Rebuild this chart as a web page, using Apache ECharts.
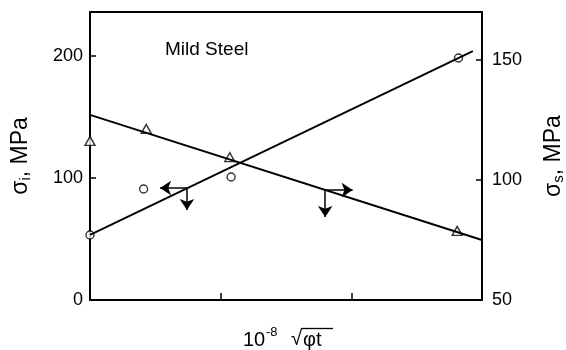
<!DOCTYPE html>
<html>
<head>
<meta charset="utf-8">
<script src="https://cdn.jsdelivr.net/npm/echarts@6/dist/echarts.min.js"></script>
<style>
html,body{margin:0;padding:0;background:#fff;}
#chart{width:566px;height:350px;}
</style>
</head>
<body>
<div id="chart"></div>
<script>
// ---- data ----
const xTicks = [0, 1, 2, 3];
const leftTicks = [0, 100, 200];      // sigma_i, MPa
const rightTicks = [50, 100, 150];    // sigma_s, MPa

// circles: sigma_i (left axis)
const circleX = [0, 0.41, 1.08, 2.82];
const circleY = [53.3, 91.0, 100.8, 198.3];
// triangles: sigma_s (right axis)
const triX = [0, 0.43, 1.07, 2.81];
const triY = [116.3, 121.3, 109.5, 78.8];

// fitted straight lines
const circleFitX = [0, 2.93];
const circleFitY = [53.3, 204.0];
const triFitX = [0, 3.0];
const triFitY = [127.1, 75.0];

// axis-pointer arrows (data coordinates)
const arrowCircle = { from: [0.742, 91.8], left: [0.536, 91.8], down: [0.742, 73.7] };
const arrowTri = { from: [1.80, 95.8], right: [2.01, 95.8], down: [1.80, 84.6] };

const FONT = 'Liberation Sans';
const zip = (a, b) => a.map((v, i) => [v, b[i]]);

const chart = echarts.init(document.getElementById('chart'), null, { renderer: 'canvas' });

const arrowLineStyle = { color: '#000', width: 1.5, type: 'solid' };
function arrowMark(a, b) {
  return [{ coord: a }, { coord: b }];
}

const option = {
  backgroundColor: '#fff',
  animation: false,
  grid: { left: 90, right: 84, top: 12, bottom: 50, show: true, borderColor: '#000', borderWidth: 2,
          containLabel: false, outerBoundsMode: 'none' },
  xAxis: {
    type: 'value', min: xTicks[0], max: xTicks[xTicks.length - 1], interval: 1,
    axisLine: { show: true, lineStyle: { color: '#000', width: 2 } },
    axisTick: { show: true, inside: true, length: 7, lineStyle: { color: '#000', width: 1.5 } },
    axisLabel: { show: false },
    splitLine: { show: false }
  },
  yAxis: [
    {
      type: 'value', position: 'left', min: 0, max: 236, interval: 100,
      axisLine: { show: true, lineStyle: { color: '#000', width: 2 } },
      axisTick: { show: true, inside: true, length: 6, lineStyle: { color: '#000', width: 1.5 } },
      axisLabel: {
        margin: 7, color: '#000', fontFamily: FONT, fontSize: 18, showMaxLabel: false,
        formatter: v => leftTicks.includes(v) ? String(v) : ''
      },
      splitLine: { show: false },
      name: '{a|σ}{sub|i}{a|, MPa}', nameLocation: 'middle', nameRotate: 90, nameGap: 57,
      nameTextStyle: {
        color: '#000',
        rich: {
          a: { fontFamily: FONT, fontSize: 23, color: '#000' },
          sub: { fontFamily: FONT, fontSize: 15, color: '#000', padding: [10, 0, 0, 0] }
        }
      }
    },
    {
      type: 'value', position: 'right', min: 50, max: 170, interval: 50,
      axisLine: { show: true, lineStyle: { color: '#000', width: 2 } },
      axisTick: { show: true, inside: true, length: 6, lineStyle: { color: '#000', width: 1.5 } },
      axisLabel: {
        margin: 10, color: '#000', fontFamily: FONT, fontSize: 18, showMaxLabel: false,
        formatter: v => rightTicks.includes(v) ? String(v) : ''
      },
      splitLine: { show: false },
      name: '{a|σ}{sub|s}{a|, MPa}', nameLocation: 'middle', nameRotate: 90, nameGap: 59,
      nameTextStyle: {
        color: '#000',
        rich: {
          a: { fontFamily: FONT, fontSize: 23, color: '#000' },
          sub: { fontFamily: FONT, fontSize: 15, color: '#000', padding: [10, 0, 0, 0] }
        }
      }
    }
  ],
  series: [
    {
      name: 'circle fit', type: 'line', yAxisIndex: 0, data: zip(circleFitX, circleFitY),
      showSymbol: false, symbol: 'none', lineStyle: { color: '#000', width: 1.9 }, silent: true
    },
    {
      name: 'triangle fit', type: 'line', yAxisIndex: 1, data: zip(triFitX, triFitY),
      showSymbol: false, symbol: 'none', lineStyle: { color: '#000', width: 1.9 }, silent: true
    },
    {
      name: 'sigma_i', type: 'scatter', yAxisIndex: 0, data: zip(circleX, circleY),
      symbol: 'circle', symbolSize: 8,
      itemStyle: { color: '#fff', borderColor: '#000', borderWidth: 1.4 },
      silent: true,
      markLine: {
        silent: true, symbol: ['none', 'arrow'], symbolSize: 11,
        label: { show: false }, lineStyle: arrowLineStyle, itemStyle: { color: '#000' },
        emphasis: { disabled: true },
        data: [arrowMark(arrowCircle.from, arrowCircle.left), arrowMark(arrowCircle.from, arrowCircle.down)]
      }
    },
    {
      name: 'sigma_s', type: 'scatter', yAxisIndex: 1, data: zip(triX, triY),
      symbol: 'triangle', symbolSize: [10, 9],
      itemStyle: { color: '#fff', borderColor: '#000', borderWidth: 1.4 },
      silent: true,
      markLine: {
        silent: true, symbol: ['none', 'arrow'], symbolSize: 11,
        label: { show: false }, lineStyle: arrowLineStyle, itemStyle: { color: '#000' },
        emphasis: { disabled: true },
        data: [arrowMark(arrowTri.from, arrowTri.right), arrowMark(arrowTri.from, arrowTri.down)]
      }
    }
  ],
  graphic: [
    { type: 'text', x: 165, y: 49.5, silent: true,
      style: { text: 'Mild Steel', font: '19px ' + FONT, fill: '#000', verticalAlign: 'middle', align: 'left' } },
    { type: 'text', x: 243, y: 340.5, silent: true,
      style: { text: '10', font: '20px ' + FONT, fill: '#000', verticalAlign: 'middle', align: 'left' } },
    { type: 'text', x: 266, y: 332.5, silent: true,
      style: { text: '-8', font: '13px ' + FONT, fill: '#000', verticalAlign: 'middle', align: 'left' } },
    { type: 'text', x: 291, y: 339, silent: true,
      style: { text: '√', font: '20px ' + FONT, fill: '#000', verticalAlign: 'middle', align: 'left' } },
    { type: 'text', x: 303, y: 340.5, silent: true,
      style: { text: 'φt', font: '20px ' + FONT, fill: '#000', verticalAlign: 'middle', align: 'left' } },
    { type: 'line', silent: true, shape: { x1: 301, y1: 328.5, x2: 333, y2: 328.5 },
      style: { stroke: '#000', lineWidth: 1.3 } }
  ]
};
chart.setOption(option);
</script>
</body>
</html>
